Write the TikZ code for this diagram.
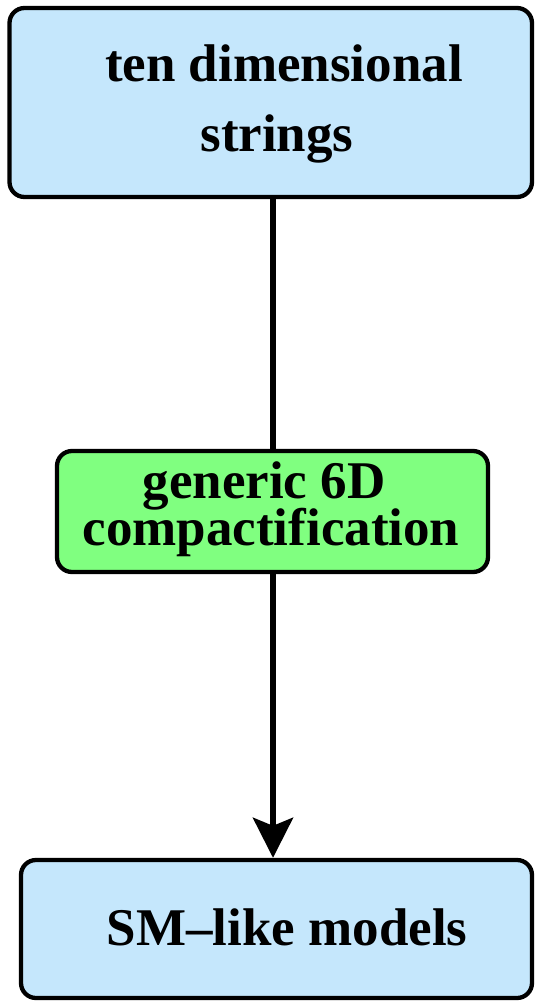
\documentclass[tikz,border=0pt]{standalone}
\usepackage{fontspec}
\setmainfont{Liberation Serif}
\usetikzlibrary{arrows.meta,calc}
\definecolor{boxblue}{RGB}{197,231,252}
\definecolor{boxgreen}{RGB}{128,255,128}
\tikzset{
  stagebox/.style={draw=black, line width=4.3pt, rounded corners=15pt},
  label text/.style={anchor=base, inner sep=0pt, font=\fontsize{53}{60}\selectfont\bfseries},
  link/.style={line width=6pt},
}
\begin{document}
\begin{tikzpicture}[x=1pt,y=-1pt]
  \useasboundingbox (0,0) rectangle (535,1001);
  % boxes
  \draw[stagebox, fill=boxblue] (9.5,8) rectangle (532,197);
  \node[inner sep=0pt, minimum width=522.5pt, minimum height=189pt] (top) at (270.75,102.5) {};
  \draw[stagebox, fill=boxgreen] (57,451) rectangle (488,572);
  \node[inner sep=0pt, minimum width=431pt, minimum height=121pt] (mid) at (272.5,511.5) {};
  \draw[stagebox, fill=boxblue] (21,860) rectangle (532,998);
  \node[inner sep=0pt, minimum width=511pt, minimum height=138pt] (bot) at (276.5,929) {};
  % labels
  \node[label text] (topA) at (284,81) {ten dimensional};
  \node[label text] (topB) at (277,151) {strings};
  \node[label text] (midA) at (264,498) {generic 6D};
  \node[label text] (midB) at (271,545) {compactification};
  \node[label text] (botA) at (287,945) {SM--like models};
  % connectors
  \coordinate (axisTop) at (273,0);
  \draw[link] (top.south -| axisTop) ++(0,2) -- ($(mid.north -| axisTop)+(0,-2)$);
  \draw[link, -{Stealth[length=40pt,width=40pt,inset=8pt]}]
    ($(mid.south -| axisTop)+(0,2)$) -- ($(bot.north -| axisTop)+(0,-2)$);
\end{tikzpicture}
\end{document}
